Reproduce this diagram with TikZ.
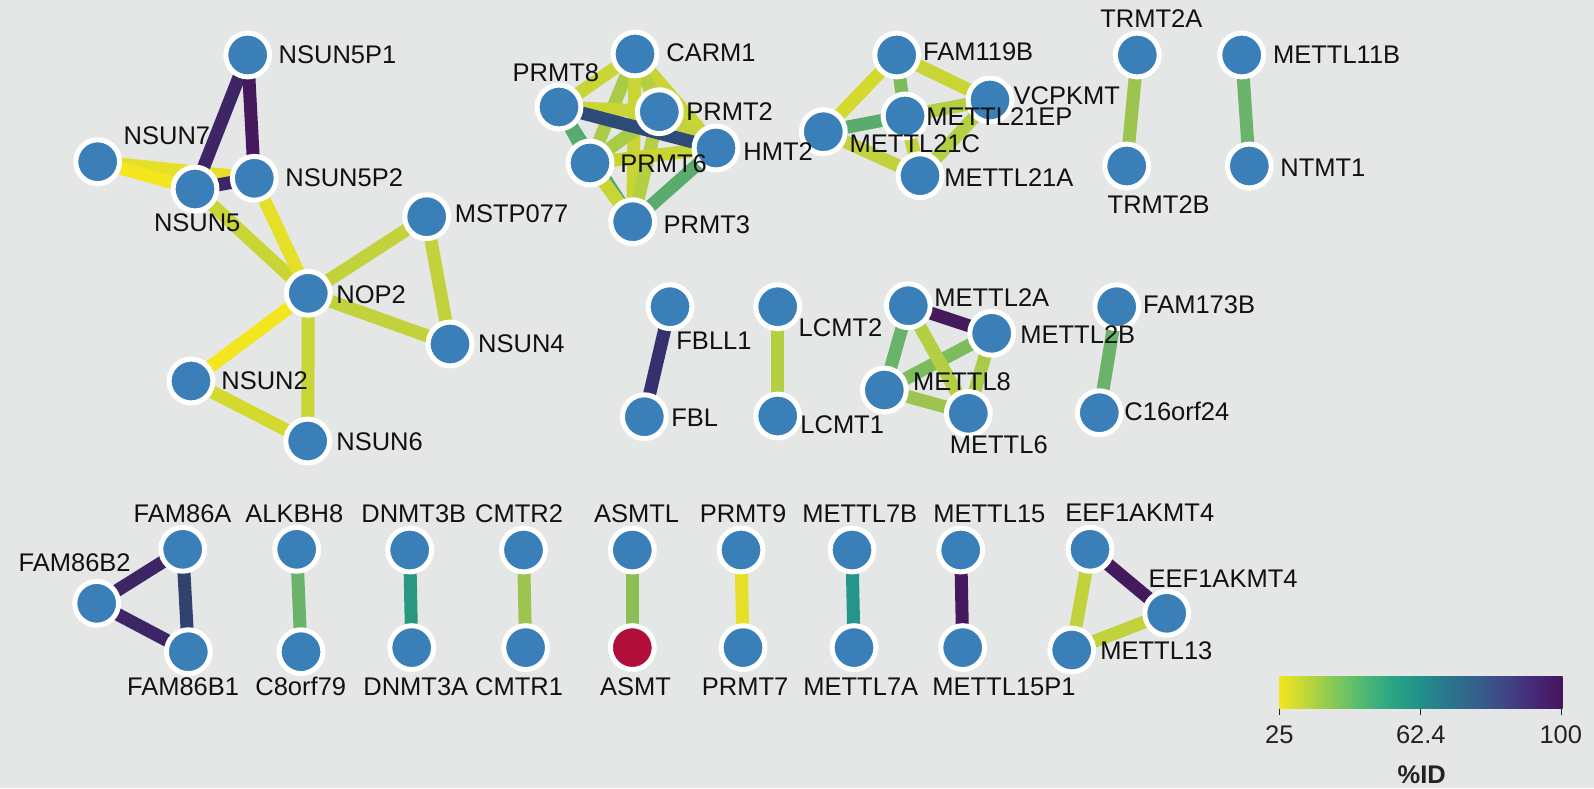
\documentclass[tikz,border=0pt]{standalone}
\usepackage{fontspec}
\setmainfont{Liberation Sans}
\usetikzlibrary{backgrounds}
\pgfdeclarelayer{bgl}
\pgfdeclarelayer{edgel}
\pgfsetlayers{bgl,edgel,main}
\definecolor{bgcol}{HTML}{E5E7E6}
\definecolor{nodeblue}{HTML}{3A7FB8}
\definecolor{nodered}{HTML}{B10E3C}
\definecolor{labelblack}{HTML}{111111}
\definecolor{legtext}{HTML}{222222}
% edge colours
\definecolor{yA}{HTML}{F3E51E}
\definecolor{yB}{HTML}{E5DF27}
\definecolor{yC}{HTML}{D4D92E}
\definecolor{yD}{HTML}{C9D535}
\definecolor{yE}{HTML}{C2D23C}
\definecolor{yF}{HTML}{B5CF42}
\definecolor{yG}{HTML}{A8CB48}
\definecolor{yH}{HTML}{9CC44F}
\definecolor{gA}{HTML}{8BBF56}
\definecolor{gB}{HTML}{7CBC5D}
\definecolor{gC}{HTML}{6AB36A}
\definecolor{gD}{HTML}{5AAC6C}
\definecolor{gE}{HTML}{4EA874}
\definecolor{tA}{HTML}{24958A}
\definecolor{tB}{HTML}{2A9880}
\definecolor{bA}{HTML}{2E4A78}
\definecolor{bB}{HTML}{31426F}
\definecolor{pA}{HTML}{35306E}
\definecolor{pB}{HTML}{3E2566}
\definecolor{pC}{HTML}{451A5C}
% legend gradient
\definecolor{v0}{HTML}{F2E51E}
\definecolor{v1}{HTML}{BCD63A}
\definecolor{v2}{HTML}{80C85A}
\definecolor{v3}{HTML}{4DB873}
\definecolor{v4}{HTML}{2AA583}
\definecolor{v5}{HTML}{228F8B}
\definecolor{v6}{HTML}{2A768C}
\definecolor{v7}{HTML}{355F8B}
\definecolor{v8}{HTML}{404585}
\definecolor{v9}{HTML}{462878}
\definecolor{v10}{HTML}{46155A}
\pgfdeclarehorizontalshading{viridisbar}{100bp}{color(0bp)=(v0); color(25bp)=(v0); color(30bp)=(v1); color(35bp)=(v2); color(40bp)=(v3); color(45bp)=(v4); color(50bp)=(v5); color(55bp)=(v6); color(60bp)=(v7); color(65bp)=(v8); color(70bp)=(v9); color(75bp)=(v10); color(100bp)=(v10)}
\newcommand\lbfont{\fontsize{12.75}{14}\selectfont}
\tikzset{
  gn/.style={circle, fill=nodeblue, draw=white, line width=2.5pt, minimum size=21.9pt, inner sep=0pt},
  lbl/.style={anchor=base west, inner sep=0pt, text=labelblack, font=\lbfont},
  lblc/.style={anchor=base, inner sep=0pt, text=legtext, font=\lbfont},
  ed/.style={line width=6.5pt, draw=#1},
}
\begin{document}
\begin{tikzpicture}[x=0.5pt,y=-0.5pt]
\begin{pgfonlayer}{bgl}
\fill[bgcol] (0,0) rectangle (1594,788);
\end{pgfonlayer}
\useasboundingbox (0,0) rectangle (1594,788);
% ---------- nodes ----------
\node[gn] (nsun5p1) at (247.7,55) {};
\node[gn] (nsun7) at (97.7,161.7) {};
\node[gn] (nsun5) at (195,189) {};
\node[gn] (nsun5p2) at (254.3,178.3) {};
\node[gn] (nop2) at (308.3,293.3) {};
\node[gn] (mstp077) at (426.7,216.7) {};
\node[gn] (nsun4) at (450,344) {};
\node[gn] (nsun2) at (191,381) {};
\node[gn] (nsun6) at (307.7,441) {};
\node[gn] (carm1) at (635,54) {};
\node[gn] (prmt8) at (559,107) {};
\node[gn] (hmt2) at (716,148) {};
\node[gn] (prmt2) at (659.3,111.7) {};
\node[gn] (prmt6) at (590,163) {};
\node[gn] (prmt3) at (632.7,221.7) {};
\node[gn] (fam119b) at (896.7,55) {};
\node[gn] (vcpkmt) at (990,100) {};
\node[gn] (mettl21ep) at (905,116) {};
\node[gn] (mettl21c) at (823.3,131.7) {};
\node[gn] (mettl21a) at (920,175.7) {};
\node[gn] (trmt2a) at (1137.3,55) {};
\node[gn] (trmt2b) at (1126.7,166) {};
\node[gn] (mettl11b) at (1241.7,55) {};
\node[gn] (ntmt1) at (1249.3,166) {};
\node[gn] (fbll1) at (670,306.7) {};
\node[gn] (fbl) at (644.3,416.7) {};
\node[gn] (lcmt2) at (777.7,306.7) {};
\node[gn] (lcmt1) at (777.7,416) {};
\node[gn] (mettl2a) at (908.3,305.7) {};
\node[gn] (mettl2b) at (991.7,333.3) {};
\node[gn] (mettl8) at (884.3,390) {};
\node[gn] (mettl6) at (968.3,413.3) {};
\node[gn] (fam173b) at (1116.7,306.7) {};
\node[gn] (c16orf24) at (1099.3,412.7) {};
\node[gn] (fam86a) at (182.7,549.3) {};
\node[gn] (fam86b2) at (96.7,603.3) {};
\node[gn] (fam86b1) at (188.3,651.7) {};
\node[gn] (alkbh8) at (296.7,549.3) {};
\node[gn] (c8orf79) at (301,651.7) {};
\node[gn] (dnmt3b) at (409.7,550) {};
\node[gn] (dnmt3a) at (411.7,647.6) {};
\node[gn] (cmtr2) at (523.5,550) {};
\node[gn] (cmtr1) at (525.6,647.6) {};
\node[gn] (asmtl) at (632.3,550) {};
\node[gn, fill=nodered] (asmt) at (632.3,647.6) {};
\node[gn] (prmt9) at (741,550) {};
\node[gn] (prmt7) at (743,647.6) {};
\node[gn] (mettl7b) at (852,550) {};
\node[gn] (mettl7a) at (854,647.6) {};
\node[gn] (mettl15) at (960.7,550) {};
\node[gn] (mettl15p1) at (962.7,647.6) {};
\node[gn] (eefa) at (1090,549.3) {};
\node[gn] (eefb) at (1166.7,613.3) {};
\node[gn] (mettl13) at (1071.7,650) {};
% ---------- edges ----------
\begin{pgfonlayer}{edgel}
\draw[ed=yB] (nsun7.center) -- (nsun5p2.center);
\draw[ed=yA] (nsun7.center) -- (nsun5.center);
\draw[ed=pB] (nsun5p1.center) -- (nsun5.center);
\draw[ed=pC] (nsun5p1.center) -- (nsun5p2.center);
\draw[ed=pB] (nsun5.center) -- (nsun5p2.center);
\draw[ed=yD] (nsun5.center) -- (nop2.center);
\draw[ed=yB] (nsun5p2.center) -- (nop2.center);
\draw[ed=yE] (nop2.center) -- (mstp077.center);
\draw[ed=yE] (nop2.center) -- (nsun4.center);
\draw[ed=yE] (mstp077.center) -- (nsun4.center);
\draw[ed=yA] (nop2.center) -- (nsun2.center);
\draw[ed=yD] (nop2.center) -- (nsun6.center);
\draw[ed=yC] (nsun2.center) -- (nsun6.center);
% PRMT
\draw[ed=gE] (prmt8.center) -- (prmt3.center);
\draw[ed=yD] (carm1.center) -- (prmt8.center);
\draw[ed=yD] (carm1.center) -- (hmt2.center);
\draw[ed=yF] (carm1.center) -- (prmt2.center);
\draw[ed=yG] (carm1.center) -- (prmt6.center);
\draw[ed=yD] (carm1.center) -- (prmt3.center);
\draw[ed=yD] (prmt8.center) -- (prmt2.center);
\draw[ed=gD] (prmt8.center) -- (prmt6.center);
\draw[ed=yE] (prmt2.center) -- (hmt2.center);
\draw[ed=yG] (prmt2.center) -- (prmt6.center);
\draw[ed=yF] (prmt2.center) -- (prmt3.center);
\draw[ed=yD] (prmt6.center) -- (hmt2.center);
\draw[ed=yD] (prmt6.center) -- (prmt3.center);
\draw[ed=gD] (hmt2.center) -- (prmt3.center);
\draw[ed=bA] (prmt8.center) -- (hmt2.center);
% METTL21
\draw[ed=yC] (mettl21c.center) -- (fam119b.center);
\draw[ed=gB] (fam119b.center) -- (mettl21ep.center);
\draw[ed=yD] (fam119b.center) -- (vcpkmt.center);
\draw[ed=yE] (mettl21ep.center) -- (mettl21a.center);
\draw[ed=yE] (mettl21c.center) -- (mettl21a.center);
\draw[ed=yF] (mettl21ep.center) -- (vcpkmt.center);
\draw[ed=yF] (mettl21a.center) -- (vcpkmt.center);
\draw[ed=gD] (mettl21c.center) -- (mettl21ep.center);
% pairs
\draw[ed=yH] (trmt2a.center) -- (trmt2b.center);
\draw[ed=gC] (mettl11b.center) -- (ntmt1.center);
\draw[ed=pA] (fbll1.center) -- (fbl.center);
\draw[ed=yF] (lcmt2.center) -- (lcmt1.center);
% METTL2
\draw[ed=gC] (mettl2a.center) -- (mettl8.center);
\draw[ed=gB] (mettl2b.center) -- (mettl8.center);
\draw[ed=yF] (mettl2a.center) -- (mettl6.center);
\draw[ed=yG] (mettl2b.center) -- (mettl6.center);
\draw[ed=yH] (mettl8.center) -- (mettl6.center);
\draw[ed=pC] (mettl2a.center) -- (mettl2b.center);
\draw[ed=gC] (fam173b.center) -- (c16orf24.center);
% bottom row
\draw[ed=pB] (fam86a.center) -- (fam86b2.center);
\draw[ed=pB] (fam86b2.center) -- (fam86b1.center);
\draw[ed=bB] (fam86a.center) -- (fam86b1.center);
\draw[ed=gC] (alkbh8.center) -- (c8orf79.center);
\draw[ed=tB] (dnmt3b.center) -- (dnmt3a.center);
\draw[ed=yH] (cmtr2.center) -- (cmtr1.center);
\draw[ed=gA] (asmtl.center) -- (asmt.center);
\draw[ed=yB] (prmt9.center) -- (prmt7.center);
\draw[ed=tA] (mettl7b.center) -- (mettl7a.center);
\draw[ed=pC] (mettl15.center) -- (mettl15p1.center);
\draw[ed=pC] (eefa.center) -- (eefb.center);
\draw[ed=yE] (eefa.center) -- (mettl13.center);
\draw[ed=yE] (eefb.center) -- (mettl13.center);
\end{pgfonlayer}
% ---------- labels ----------
\node[lbl] (l-nsun5p1) at (278.3,63.3) {NSUN5P1};
\node[lbl] (l-nsun7) at (123.3,144.3) {NSUN7};
\node[lbl] (l-nsun5) at (153.6,231.7) {NSUN5};
\node[lbl] (l-nsun5p2) at (285,186.7) {NSUN5P2};
\node[lbl] (l-mstp077) at (454.4,222.6) {MSTP077};
\node[lbl] (l-nop2) at (336,303.3) {NOP2};
\node[lbl] (l-nsun4) at (477.8,352.8) {NSUN4};
\node[lbl] (l-nsun2) at (221,389.3) {NSUN2};
\node[lbl] (l-nsun6) at (336,450.7) {NSUN6};
\node[lbl] (l-carm1) at (666,61.7) {CARM1};
\node[lbl] (l-prmt8) at (512.3,81.7) {PRMT8};
\node[lbl] (l-prmt2) at (686,120) {PRMT2};
\node[lbl] (l-hmt2) at (743,160) {HMT2};
\node[lbl] (l-prmt6) at (620,172.7) {PRMT6};
\node[lbl] (l-prmt3) at (663.3,233.3) {PRMT3};
\node[lbl] (l-fam119b) at (922.7,60.7) {FAM119B};
\node[lbl] (l-vcpkmt) at (1013.3,104) {VCPKMT};
\node[lbl] (l-mettl21ep) at (926,125.7) {METTL21EP};
\node[lbl] (l-mettl21c) at (849.3,152.7) {METTL21C};
\node[lbl] (l-mettl21a) at (944,186.7) {METTL21A};
\node[lbl] (l-trmt2a) at (1100,27.5) {TRMT2A};
\node[lbl] (l-trmt2b) at (1107.3,213.3) {TRMT2B};
\node[lbl] (l-mettl11b) at (1272.7,63.3) {METTL11B};
\node[lbl] (l-ntmt1) at (1280,176) {NTMT1};
\node[lbl] (l-fbll1) at (676,349) {FBLL1};
\node[lbl] (l-fbl) at (671,426) {FBL};
\node[lbl] (l-lcmt2) at (798.3,336.7) {LCMT2};
\node[lbl] (l-lcmt1) at (800,433.3) {LCMT1};
\node[lbl] (l-mettl2a) at (934,306.7) {METTL2A};
\node[lbl] (l-mettl2b) at (1020,343.3) {METTL2B};
\node[lbl] (l-mettl8) at (912.7,390) {METTL8};
\node[lbl] (l-mettl6) at (949.5,453.4) {METTL6};
\node[lbl] (l-fam173b) at (1142.7,313.3) {FAM173B};
\node[lbl] (l-c16orf24) at (1124,420) {C16orf24};
\node[lbl] (l-fam86a) at (133.3,522.3) {FAM86A};
\node[lbl] (l-fam86b2) at (18.3,571.7) {FAM86B2};
\node[lbl] (l-fam86b1) at (126.7,695) {FAM86B1};
\node[lbl] (l-alkbh8) at (245,522.3) {ALKBH8};
\node[lbl] (l-c8orf79) at (255,695) {C8orf79};
\node[lbl] (l-dnmt3b) at (361,522.3) {DNMT3B};
\node[lbl] (l-dnmt3a) at (363,695) {DNMT3A};
\node[lbl] (l-cmtr2) at (474.7,522.3) {CMTR2};
\node[lbl] (l-cmtr1) at (474.7,695) {CMTR1};
\node[lbl] (l-asmtl) at (593.7,522.3) {ASMTL};
\node[lbl] (l-asmt) at (599.8,695) {ASMT};
\node[lbl] (l-prmt9) at (699.4,522.3) {PRMT9};
\node[lbl] (l-prmt7) at (701.5,695) {PRMT7};
\node[lbl] (l-mettl7b) at (802,522.3) {METTL7B};
\node[lbl] (l-mettl7a) at (803,695) {METTL7A};
\node[lbl] (l-mettl15) at (933,522.3) {METTL15};
\node[lbl] (l-mettl15p1) at (932,695) {METTL15P1};
\node[lbl] (l-eefa) at (1065,521.7) {EEF1AKMT4};
\node[lbl] (l-eefb) at (1148.3,587.3) {EEF1AKMT4};
\node[lbl] (l-mettl13) at (1100,659.3) {METTL13};
% ---------- legend ----------
\shade[shading=viridisbar] (1279.3,676) rectangle (1562.7,708.7);
\draw[legtext, line width=0.6pt] (1279.3,708.7) -- (1279.3,715);
\draw[legtext, line width=0.6pt] (1420.5,708.7) -- (1420.5,715);
\draw[legtext, line width=0.6pt] (1561.7,708.7) -- (1561.7,715);
\node[lblc] (t25) at (1279.3,743.3) {25};
\node[lblc] (t62) at (1420.8,743.3) {62.4};
\node[lblc] (t100) at (1560.8,743.3) {100};
\node[lblc, font=\lbfont\bfseries] (tid) at (1421.7,783.3) {\%ID};
\end{tikzpicture}
\end{document}
